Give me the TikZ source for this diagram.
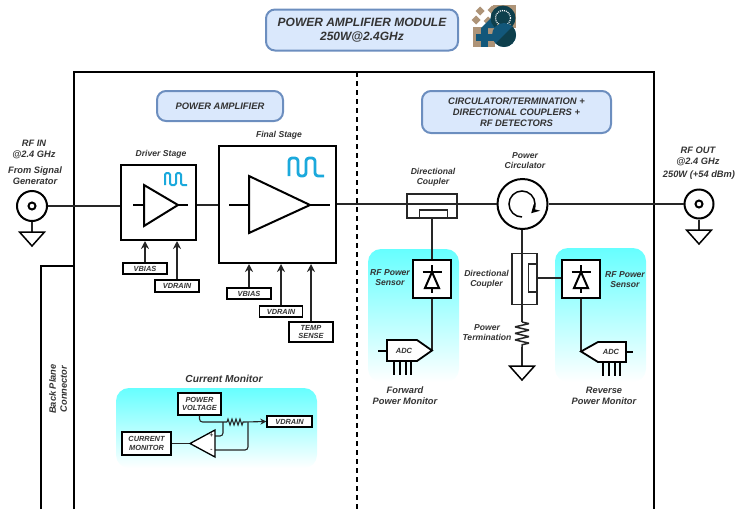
\documentclass[tikz,border=0pt]{standalone}
\usepackage{fontspec}
\setmainfont{Liberation Sans}
\usepackage{color, xcolor}
\usepackage{tikz}
\usetikzlibrary{arrows.meta, decorations.pathmorphing}
\definecolor{txtgray}{HTML}{333333}
\definecolor{headfill}{HTML}{DAE8FC}
\definecolor{headline}{HTML}{6C8EBF}
\definecolor{wavecol}{HTML}{1BA9DC}
\definecolor{glowcol}{HTML}{66FFFF}
\definecolor{logotan}{HTML}{AE9478}
\definecolor{logoblue}{HTML}{12577A}
\definecolor{logodark}{HTML}{0E3F4C}
\tikzset{
  lbl/.style={font=\fontsize{8.6}{10}\selectfont\bfseries\itshape, text=txtgray, align=center, inner sep=0pt},
  biglbl/.style={lbl, font=\fontsize{9.3}{11}\selectfont\bfseries\itshape},
  head/.style={draw=headline, fill=headfill, line width=2pt, rounded corners=9pt, align=center, inner sep=0pt, text=txtgray, font=\fontsize{9.4}{11}\selectfont\bfseries\itshape},
  tag/.style={draw=black, fill=white, line width=1.3pt, align=center, inner sep=0pt, text=txtgray, font=\fontsize{7.4}{8.8}\selectfont\bfseries\itshape},
  block/.style={draw=black, fill=white, line width=2pt, inner sep=0pt},
  cpl/.style={draw=black!85, fill=white, line width=1.4pt, inner sep=0pt},
  wire/.style={draw=black!85, line width=1.5pt},
  thinwire/.style={draw=black!85, line width=1.1pt},
  feed/.style={wire, -{Stealth[length=8pt,width=8pt]}},
  glow/.style={top color=glowcol, bottom color=white, rounded corners=13pt, draw=none, inner sep=0pt},
  amp/.style={draw=black, fill=white, line width=2pt, line join=miter},
  gnd/.style={draw=black, fill=white, line width=1.5pt},
  port/.style={draw=black, circle, fill=white, line width=2pt, inner sep=0pt},
  wave/.style={draw=wavecol, line width=2pt, line join=round, rounded corners=1.5pt}
}
\newcommand{\gndsym}[2]{\draw[gnd] (#1-12.5,#2) -- (#1+12.5,#2) -- (#1,#2+14) -- cycle;}
\newcommand{\diodesym}[1]{%
  \draw[line width=2pt] (#1,265) -- (#1,293);
  \draw[line width=2pt] (#1-9.5,272) -- (#1+9.5,272);
  \draw[line width=2pt, fill=white] (#1,272) -- (#1+7,288) -- (#1-7,288) -- cycle;}
\begin{document}
\begin{tikzpicture}[x=1pt, y=-1pt]
  \useasboundingbox (0,0) rectangle (741,509);

  % glow panels
  \node[glow, minimum width=91pt, minimum height=133pt] (GF) at (413.5,315.5) {};
  \node[glow, minimum width=91pt, minimum height=134pt] (GR) at (600.5,315) {};
  \node[glow, minimum width=201pt, minimum height=80pt] (GC) at (216.5,428) {};

  % frame
  \coordinate (F1) at (74,509);
  \coordinate (F2) at (74,72);
  \coordinate (F3) at (654,72);
  \coordinate (F4) at (654,509);
  \draw[line width=2pt] (F1) -- (F2) -- (F3) -- (F4);
  \coordinate (B1) at (41,509);
  \coordinate (B2) at (41,266);
  \coordinate (B3) at (74,266);
  \draw[line width=2pt] (B1) -- (B2) -- (B3);
  \coordinate (D1) at (357,72);
  \coordinate (D2) at (357,509);
  \draw[line width=1.6pt, dash pattern=on 5pt off 4pt] (D1) -- (D2);
  \node[biglbl, rotate=90] (BP) at (58,389) {Back Plane\\Connector};

  % headers
  \node[head, minimum width=192pt, minimum height=41pt, font=\fontsize{12}{14}\selectfont\bfseries\itshape] (T) at (362,30) {POWER AMPLIFIER MODULE\\250W@2.4GHz};
  \node[head, minimum width=126pt, minimum height=30pt] (PA) at (220,106) {POWER AMPLIFIER};
  \node[head, minimum width=189pt, minimum height=42pt] (CT) at (516.5,112) {CIRCULATOR/TERMINATION +\\DIRECTIONAL COUPLERS +\\RF DETECTORS};

  % logo
  \fill[logotan] (493,5) rectangle (516,28);
  \fill[logotan] (473,27) rectangle (495,47);
  \foreach \cx/\cy in {480/11,492/10,476/20,488/21} \fill[logotan] (\cx-4.5,\cy) -- (\cx,\cy-4.5) -- (\cx+4.5,\cy) -- (\cx,\cy+4.5) -- cycle;
  \fill[logoblue] (481,28) -- (497,12) -- (500,28) -- cycle;
  \fill[logoblue] (481,28) rectangle (488,47);
  \fill[logoblue] (476,34) rectangle (494,41);
  \fill[logodark] (503,18) circle (12.5);
  \draw[white, line width=1.2pt, dash pattern=on 1pt off 1pt] (503,18) circle (7.5);
  \fill[logotan] (497,24) -- (511,24) -- (497,38) -- cycle;
  \fill[logoblue] (504,35) circle (12);
  \fill[logodark] (495.5,43.5) -- (512.5,26.5) arc[start angle=45, end angle=-135, radius=12pt] -- cycle;

  % connectors
  \node[port, minimum size=30pt] (IN) at (32,206) {};
  \node[port, minimum size=7pt] (INC) at (32,206) {};
  \node[port, minimum size=29pt] (OUT) at (699,204) {};
  \node[port, minimum size=7pt] (OUTC) at (699,204) {};
  \coordinate (GI) at (32,232);
  \coordinate (GO) at (699,230);
  \draw[wire] (IN) -- (GI);
  \draw[wire] (OUT) -- (GO);
  \gndsym{32}{232}
  \gndsym{699}{230}
  \node[biglbl] (LI) at (34,149.5) {RF IN\\@2.4 GHz};
  \node[biglbl] (LG) at (35,175.5) {From Signal\\Generator};
  \node[biglbl] (LO) at (698,156.5) {RF OUT\\@2.4 GHz};
  \node[biglbl] (LW) at (699,175) {250W (+54 dBm)};

  % power amplifier
  \node[block, minimum size=75pt] (DRV) at (158.5,202.5) {};
  \node[block, minimum size=117pt] (FIN) at (277.5,204.5) {};
  \node[lbl] (LD) at (161,154) {Driver Stage};
  \node[lbl] (LF) at (279,135.5) {Final Stage};
  \coordinate (DI) at (133,205);
  \coordinate (DO) at (188,205);
  \coordinate (FI) at (229,205);
  \coordinate (FO) at (330,205);
  \draw[line width=2pt] (DI) -- (DO);
  \draw[line width=2pt] (FI) -- (FO);
  \draw[amp] (144,185) -- (178,205) -- (144,226) -- cycle;
  \draw[amp] (249,176) -- (310,205) -- (249,233) -- cycle;
  \draw[wave] (165,185) -- (165,173) -- (170,173) -- (170,185) -- (176,185) -- (176,173) -- (181,173) -- (181,185) -- (187,185);
  \draw[wave, line width=2.8pt, rounded corners=3pt] (289,176) -- (289,158) -- (298,158) -- (298,176) -- (306,176) -- (306,158) -- (315,158) -- (315,176) -- (324,176);

  \node[tag, minimum width=44pt, minimum height=11pt] (VB1) at (145,268.5) {VBIAS};
  \node[tag, minimum width=44pt, minimum height=12pt] (VD1) at (177,286) {VDRAIN};
  \node[tag, minimum width=44pt, minimum height=11pt] (VB2) at (249,293.5) {VBIAS};
  \node[tag, minimum width=43pt, minimum height=11pt] (VD2) at (281,311.5) {VDRAIN};
  \node[tag, minimum width=44pt, minimum height=20pt] (TS) at (311,332) {TEMP\\SENSE};
  \draw[feed] (VB1.north) -- (VB1.north |- DRV.south);
  \draw[feed] (VD1.north) -- (VD1.north |- DRV.south);
  \draw[feed] (VB2.north) -- (VB2.north |- FIN.south);
  \draw[feed] (VD2.north) -- (VD2.north |- FIN.south);
  \draw[feed] (TS.north) -- (TS.north |- FIN.south);

  % main line
  \node[cpl, minimum width=50pt, minimum height=24pt] (DC1) at (432,206) {};
  \node[cpl, minimum width=28pt, minimum height=8pt] (DC1I) at (433.5,214) {};
  \node[port, minimum size=50pt] (CIRC) at (522.5,204) {};
  \draw[wire] (IN) -- (DRV.west |- IN);
  \draw[wire] (DRV.east |- DO) -- (FIN.west |- DO);
  \draw[wire] (FIN.east |- CIRC) -- (CIRC);
  \draw[wire] (CIRC) -- (OUT);
  \draw[line width=1.5pt, -{Stealth[length=8pt,width=9pt]}] (522,217) arc[start angle=270, end angle=-45, radius=13pt];
  \node[lbl] (LC1) at (433,177) {Directional\\Coupler};
  \node[lbl] (LP) at (525,160.5) {Power\\Circulator};

  % vertical coupler and termination
  \node[cpl, minimum width=25pt, minimum height=51pt] (DC2) at (524.5,279) {};
  \node[cpl, minimum width=8pt, minimum height=28pt] (DC2I) at (532.5,278) {};
  \coordinate (R1) at (522,322);
  \coordinate (R2) at (522,347);
  \coordinate (GT) at (522,366);
  \draw[wire] (CIRC.south -| R1) -- (R1);
  \draw[wire, line join=bevel, decorate, decoration={zigzag, amplitude=7pt, segment length=6.5pt}] (R1) -- (R2);
  \draw[wire] (R2) -- (GT);
  \gndsym{522}{366}
  \node[lbl] (LC2) at (486.5,279) {Directional\\Coupler};
  \node[lbl] (LT) at (487,333) {Power\\Termination};

  % forward monitor
  \node[block, minimum size=38pt] (SF) at (432,279) {};
  \coordinate (AF) at (432,350.5);
  \draw[wire] (DC1I.south -| SF) -- (SF);
  \draw[wire] (SF) -- (AF);
  \diodesym{432}
  \foreach \x in {394,400,406,411} \draw[line width=2pt] (\x,361) -- (\x,375);
  \draw[line width=2pt] (378,351) -- (387,351);
  \draw[line width=1.8pt, fill=white] (387,340) -- (417,340) -- (AF) -- (417,361) -- (387,361) -- cycle;
  \node[lbl, font=\fontsize{7.5}{9}\selectfont\bfseries\itshape] (AFL) at (404,350.5) {ADC};
  \node[lbl] (LS1) at (390,278) {RF Power\\Sensor};
  \node[biglbl] (LFM) at (405,395.5) {Forward\\Power Monitor};

  % reverse monitor
  \node[block, minimum size=38pt] (SR) at (581,279) {};
  \coordinate (AR) at (581,351.5);
  \draw[wire] (DC2I.east) -- (SR.west |- DC2I);
  \draw[wire] (SR) -- (AR);
  \diodesym{581}
  \foreach \x in {603,609,615,620} \draw[line width=2pt] (\x,362) -- (\x,376);
  \draw[line width=2pt] (626,352) -- (633,352);
  \draw[line width=1.8pt, fill=white] (626,342) -- (598,342) -- (AR) -- (598,362) -- (626,362) -- cycle;
  \node[lbl, font=\fontsize{7.5}{9}\selectfont\bfseries\itshape] (ARL) at (611,351.5) {ADC};
  \node[lbl] (LS2) at (625,280) {RF Power\\Sensor};
  \node[biglbl] (LRM) at (604,395.5) {Reverse\\Power Monitor};

  % current monitor
  \node[lbl, font=\fontsize{10.2}{12}\selectfont\bfseries\itshape] (LCM) at (224,379) {Current Monitor};
  \node[tag, minimum width=43pt, minimum height=22pt] (PV) at (199.5,404) {POWER\\VOLTAGE};
  \node[tag, minimum width=45pt, minimum height=11pt] (VD3) at (289.5,421.5) {VDRAIN};
  \node[tag, minimum width=49pt, minimum height=23pt] (CM) at (146.5,443.5) {CURRENT\\MONITOR};
  \coordinate (RA) at (227,422);
  \coordinate (RB) at (244,422);
  \coordinate (JP) at (223,422);
  \coordinate (JM) at (248,422);
  \coordinate (IP) at (215,436);
  \coordinate (IM) at (215,450);
  \coordinate (TIP) at (190,443.5);
  \draw[thinwire, rounded corners=3pt] (PV.south) -- (PV.south |- RA) -- (RA);
  \draw[thinwire, decorate, decoration={zigzag, amplitude=3pt, segment length=4pt}] (RA) -- (RB);
  \draw[thinwire, -{Stealth[length=6pt,width=6pt]}] (RB) -- (VD3.west);
  \draw[thinwire, rounded corners=3pt] (JP) -- (JP |- IP) -- (IP);
  \draw[thinwire, rounded corners=3pt] (JM) -- (JM |- IM) -- (IM);
  \draw[thinwire] (CM.east) -- (TIP);
  \draw[line width=1.3pt, fill=white] (215,430) -- (TIP) -- (215,457) -- cycle;
  \node[lbl, font=\fontsize{6.5}{7}\selectfont\bfseries] (OPP) at (211.5,436) {+};
  \node[lbl, font=\fontsize{6.5}{7}\selectfont\bfseries] (OPM) at (211.5,450) {-};
\end{tikzpicture}
\end{document}
